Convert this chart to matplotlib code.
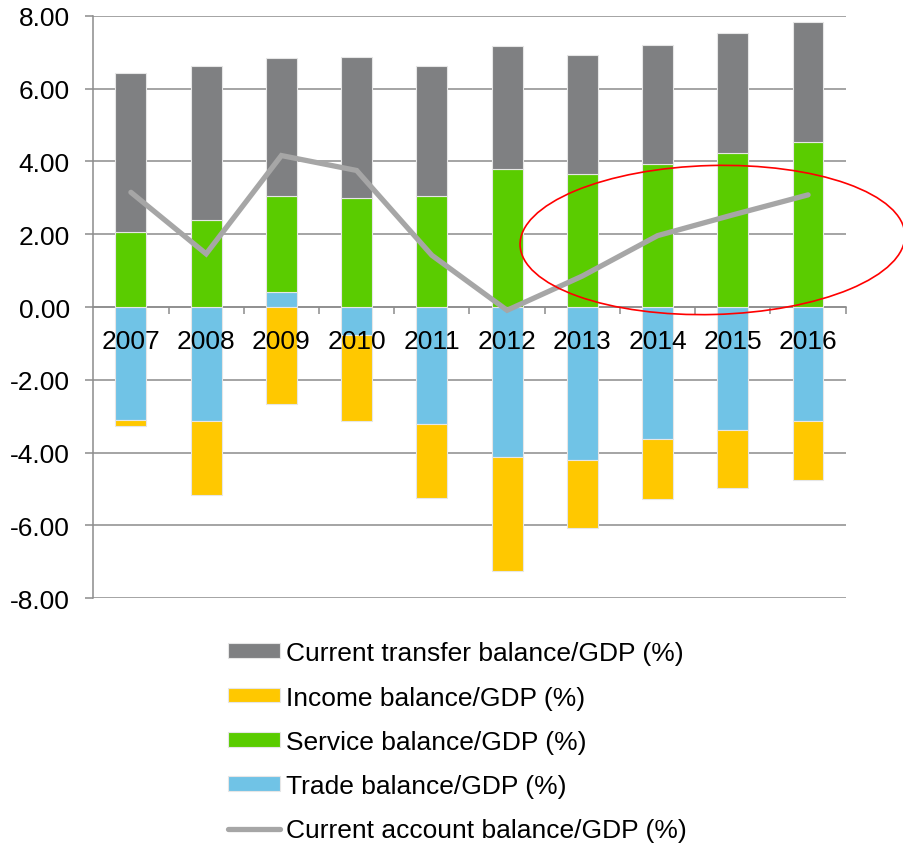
import numpy as np
import matplotlib
matplotlib.use("Agg")
import matplotlib.pyplot as plt
from matplotlib.patches import Ellipse
from matplotlib.ticker import FormatStrFormatter

YEARS = ["2007", "2008", "2009", "2010", "2011", "2012", "2013", "2014", "2015", "2016"]

# shares of GDP (%)
TRADE = [-3.10, -3.12, 0.42, -0.76, -3.21, -4.11, -4.21, -3.62, -3.37, -3.13]
SERVICE = [2.07, 2.40, 2.63, 2.99, 3.05, 3.79, 3.65, 3.92, 4.22, 4.53]
INCOME = [-0.17, -2.05, -2.67, -2.38, -2.03, -3.14, -1.85, -1.64, -1.61, -1.63]
TRANSFER = [4.35, 4.21, 3.78, 3.87, 3.57, 3.39, 3.28, 3.28, 3.30, 3.31]
CURRENT_ACCOUNT = [3.15, 1.46, 4.16, 3.75, 1.42, -0.09, 0.85, 1.96, 2.53, 3.08]

LABELS = {
    "trade": "Trade balance/GDP (%)",
    "service": "Service balance/GDP (%)",
    "income": "Income balance/GDP (%)",
    "transfer": "Current transfer balance/GDP (%)",
    "ca": "Current account balance/GDP (%)",
}

COLORS = {
    "trade": "#70c3e6",
    "service": "#5acc00",
    "income": "#ffc800",
    "transfer": "#7f8082",
    "ca": "#a6a6a6",
}

GRID = "#8c8c8c"

plt.rcParams["font.family"] = ["Liberation Sans", "DejaVu Sans"]
plt.rcParams["font.size"] = 19

fig = plt.figure(figsize=(9.04, 8.45), dpi=100)
ax = fig.add_axes([0.1032, 0.2908, 0.8323, 0.6894])

x = np.arange(len(YEARS))
pos_base = np.zeros(len(YEARS))
neg_base = np.zeros(len(YEARS))
bars = {}
# positive parts stack upward from zero, negative parts downward
for key, vals in [("trade", TRADE), ("service", SERVICE),
                  ("income", INCOME), ("transfer", TRANSFER)]:
    vals = np.asarray(vals)
    base = np.where(vals >= 0, pos_base, neg_base)
    bars[key] = ax.bar(x, vals, width=0.41, bottom=base, color=COLORS[key],
                       edgecolor="#e6e6e6", linewidth=0.8, zorder=2,
                       label=LABELS[key])
    pos_base += np.clip(vals, 0, None)
    neg_base += np.clip(vals, None, 0)

ca_line, = ax.plot(x, CURRENT_ACCOUNT, color=COLORS["ca"], lw=3.8,
                   solid_capstyle="round", solid_joinstyle="miter",
                   zorder=3, label=LABELS["ca"])

ax.set_xlim(-0.5, len(YEARS) - 0.5)
ax.set_ylim(-8, 8)
ax.set_yticks(np.arange(-8, 9, 2))
ax.yaxis.set_major_formatter(FormatStrFormatter("%.2f"))
ax.yaxis.grid(True, color=GRID, lw=1.1)

for side in ["top", "right"]:
    ax.spines[side].set_visible(False)
ax.spines["bottom"].set_position(("data", 0))
for side in ["left", "bottom"]:
    ax.spines[side].set_color(GRID)
    ax.spines[side].set_linewidth(1.1)
    ax.spines[side].set_zorder(1.5)

ax.set_xticks(x)
ax.set_xticklabels(YEARS)
ax.set_xticks(x + 0.5, minor=True)
ax.tick_params(axis="x", which="major", length=0, pad=16)
ax.tick_params(axis="x", which="minor", length=5, width=1.1, color=GRID, direction="out")
ax.tick_params(axis="y", length=6, width=1.1, color=GRID, pad=11)

ax.set_axisbelow(True)
ax.xaxis.set_zorder(4)

# highlight recent years
ring = Ellipse((7.125, 8.45 - 2.41), 3.85, 1.49, angle=1.5,
               transform=fig.dpi_scale_trans, fill=False,
               edgecolor="#ff0000", lw=1.2, zorder=10)
fig.add_artist(ring)

handles = [bars["transfer"], bars["income"], bars["service"], bars["trade"], ca_line]
fig.legend(handles=handles, labels=[h.get_label() for h in handles],
           loc="upper left", bbox_to_anchor=(0.2522, 0.2400),
           frameon=False, borderpad=0, borderaxespad=0,
           handlelength=1.97, handleheight=0.48, handletextpad=0.23,
           labelspacing=0.77, fontsize=19)

fig.savefig("out.png", dpi=100)
